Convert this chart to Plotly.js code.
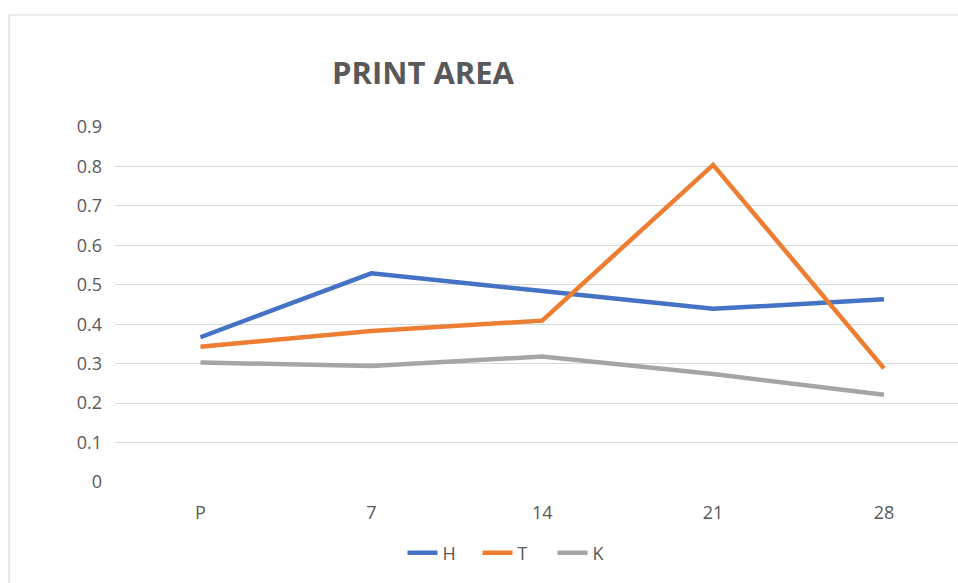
<!DOCTYPE html>
<html>
<head>
<meta charset="utf-8">
<script src="https://cdn.plot.ly/plotly-3.0.1.min.js"></script>
<style>html,body{margin:0;padding:0;background:#fff;}#chart{width:958px;height:583px;}</style>
</head>
<body>
<div id="chart"></div>
<script>
var categories = ["P", "7", "14", "21", "28"];
var seriesH = [0.367, 0.529, 0.484, 0.439, 0.463];
var seriesT = [0.343, 0.383, 0.409, 0.804, 0.288];
var seriesK = [0.303, 0.294, 0.318, 0.274, 0.221];
var yTicks = [0, 0.1, 0.2, 0.3, 0.4, 0.5, 0.6, 0.7, 0.8, 0.9];
var yTickText = ["0", "0.1", "0.2", "0.3", "0.4", "0.5", "0.6", "0.7", "0.8", "0.9"];

var font = "'Open Sans', 'Noto Sans', sans-serif";
function tr(name, y, color) {
  return {x: categories, y: y, name: name, type: 'scatter', mode: 'lines',
          line: {color: color, width: 4.5}, hoverinfo: 'skip'};
}
var data = [tr('H', seriesH, '#4472C4'), tr('T', seriesT, '#ED7D31'), tr('K', seriesK, '#A5A5A5')];

var plotW = 958 - 114.5, plotH = 482 - 127;
var layout = {
  width: 958, height: 583,
  margin: {l: 114.5, r: 0, t: 127, b: 101},
  paper_bgcolor: '#ffffff', plot_bgcolor: '#ffffff',
  title: {text: '<b>PRINT AREA</b>', x: 423/958, xanchor: 'center', xref: 'container',
          y: 1 - 73/583, yanchor: 'middle', yref: 'container',
          font: {family: font, size: 31, color: '#595959'}},
  xaxis: {type: 'category', range: [-0.5, 4.433], showgrid: false, zeroline: false,
          showline: false, ticks: '', ticklabelstandoff: 18,
          tickfont: {family: font, size: 18, color: '#595959'}, fixedrange: true},
  yaxis: {range: [0, 0.9], tickvals: yTicks, ticktext: yTickText, showgrid: true,
          gridcolor: '#d9d9d9', gridwidth: 1, zeroline: false, showline: false, ticks: '',
          ticklabelstandoff: 12,
          tickfont: {family: font, size: 18, color: '#595959'}, fixedrange: true},
  showlegend: true,
  legend: {orientation: 'h', xref: 'container', x: 515/958, xanchor: 'center',
           yref: 'container', y: 1 - 553/583, yanchor: 'middle',
           font: {family: font, size: 18, color: '#595959'}, itemwidth: 30,
           entrywidth: 30, entrywidthmode: 'pixels', tracegroupgap: 0},
  shapes: [{type: 'rect', xref: 'paper', yref: 'paper', x0: (8.5 - 114.5)/plotW, x1: 1.05,
            y0: -(700-482)/plotH, y1: (482-15)/plotH, line: {color: '#d9d9d9', width: 1.2}, layer: 'below'}]
};
Plotly.newPlot('chart', data, layout, {displayModeBar: false, staticPlot: true});
</script>
</body>
</html>
